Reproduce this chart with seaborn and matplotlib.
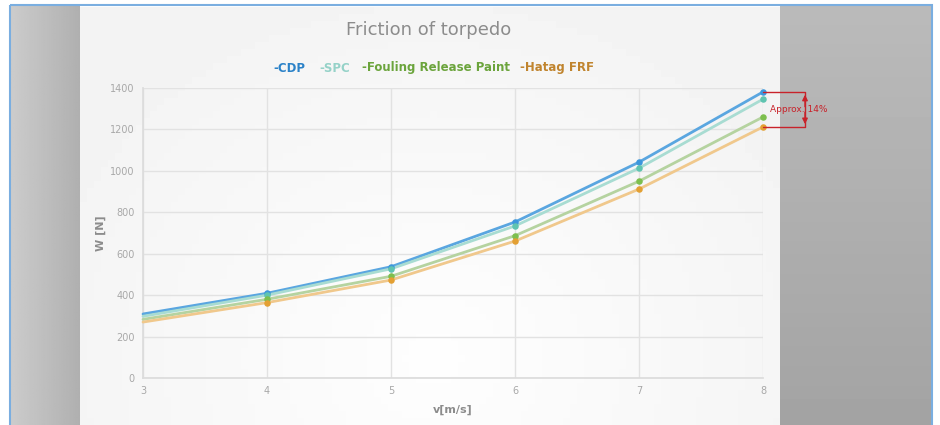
import numpy as np
import pandas as pd
import matplotlib
matplotlib.use("Agg")
import matplotlib.pyplot as plt
import seaborn as sns
from matplotlib.patches import Rectangle

# ---- data ----
speed = [3, 4, 5, 6, 7, 8]
cdp = [309, 409, 537, 753, 1042, 1381]
spc = [298, 400, 527, 734, 1013, 1346]
frp = [283, 380, 491, 687, 950, 1260]
hatag = [270, 364, 473, 661, 912, 1212]
series_names = ["-CDP", "-SPC", "-Fouling Release Paint", "-Hatag FRF"]
x_ticks = [3, 4, 5, 6, 7, 8]
y_ticks = [0, 200, 400, 600, 800, 1000, 1200, 1400]

line_colors = ["#5aa6e0", "#a8dcd2", "#b5d3a0", "#f0c88c"]
marker_colors = ["#3d97dc", "#5fc4b0", "#7dbf4e", "#e3a033"]
legend_colors = ["#2b82c8", "#95d2c8", "#6ba43c", "#c0842e"]

df = pd.DataFrame({"v": speed * 4,
                   "W": cdp + spc + frp + hatag,
                   "series": sum([[n] * len(speed) for n in series_names], [])})

sns.set_theme(style="white")
plt.rcParams['font.family'] = ['DejaVu Sans']

W, H = 940, 425
fig = plt.figure(figsize=(W / 100, H / 100), dpi=100)
fig.patch.set_facecolor("white")

# background
bg = fig.add_axes([0, 0, 1, 1])
bg.set_xlim(0, W)
bg.set_ylim(H, 0)
bg.axis("off")
lg = np.tile(np.linspace(0.80, 0.69, 64), (4, 1))
bg.imshow(lg, extent=[10, 80, H, 5], cmap="gray", vmin=0, vmax=1, aspect="auto", zorder=0)
rg = np.tile(np.linspace(0.73, 0.64, 64)[:, None], (1, 4))
bg.imshow(rg, extent=[780, 932, H, 5], cmap="gray", vmin=0, vmax=1, aspect="auto", zorder=0)
yy, xx = np.mgrid[0:60, 0:100]
r = np.sqrt(((xx - 50) / 55.0) ** 2 + ((yy - 50) / 50.0) ** 2)
panel = 0.995 - 0.045 * np.clip(r, 0, 1.2) / 1.2
bg.imshow(panel, extent=[80, 780, H, 7], cmap="gray", vmin=0, vmax=1, aspect="auto", zorder=0)
bg.add_patch(Rectangle((10, 5), 922, H, fill=False, edgecolor="#7aaee0", lw=1.5, zorder=3))
bg.set_xlim(0, W)
bg.set_ylim(H, 0)

ax = fig.add_axes([143 / W, 1 - 378 / H, 620 / W, 290 / H])
ax.patch.set_alpha(0)
for i, name in enumerate(series_names):
    sub = df[df.series == name]
    sns.lineplot(data=sub, x="v", y="W", ax=ax, color=line_colors[i], lw=2.0,
                 legend=False, zorder=3, clip_on=False)
    sub2 = sub[sub.v > 3]
    ax.scatter(sub2.v, sub2.W, s=22, color=marker_colors[i], zorder=4, clip_on=False, lw=0)

ax.set_xlim(3, 8)
ax.set_ylim(0, 1400)
ax.set_xticks(x_ticks)
ax.set_yticks(y_ticks)
ax.grid(True, color="#e2e2e2", lw=1)
for s in ["top", "right"]:
    ax.spines[s].set_visible(False)
for s in ["left", "bottom"]:
    ax.spines[s].set_color("#dcdcdc")
ax.tick_params(axis="both", labelsize=7, colors="#a8a8a8", length=0, pad=6)
ax.set_xlabel("v[m/s]", fontsize=8, color="#8c8c8c", fontweight="bold", labelpad=6)
ax.set_ylabel("W [N]", fontsize=8, color="#8c8c8c", fontweight="bold", labelpad=3)

# annotation bracket
x_end = 8 + (805 - 763) / 124.0
ax.plot([8, x_end, x_end, 8], [cdp[-1], cdp[-1], hatag[-1], hatag[-1]],
        color="#c8222a", lw=1, clip_on=False, zorder=5)
mid = (cdp[-1] + hatag[-1]) / 2
for tgt in (cdp[-1], hatag[-1]):
    ax.annotate("", xy=(x_end, tgt), xytext=(x_end, mid),
                arrowprops=dict(arrowstyle="-|>", color="#c8222a", lw=1, mutation_scale=8),
                annotation_clip=False)
ax.text(8 + (799 - 763) / 124.0, mid, "Approx. 14%", ha="center",
        va="center", fontsize=6.5, color="#c8222a", zorder=6)

fig.text(429 / W, 1 - 30 / H, "Friction of torpedo", ha="center", va="center",
         fontsize=13, color="#8c8c8c")
legend_cx = [289.5, 335, 436.5, 557.5]
for i, name in enumerate(series_names):
    fig.text(legend_cx[i] / W, 1 - 68 / H, name, ha="center", va="center", fontsize=8.5,
             fontweight="bold", color=legend_colors[i])

fig.savefig("out.png", dpi=100)
